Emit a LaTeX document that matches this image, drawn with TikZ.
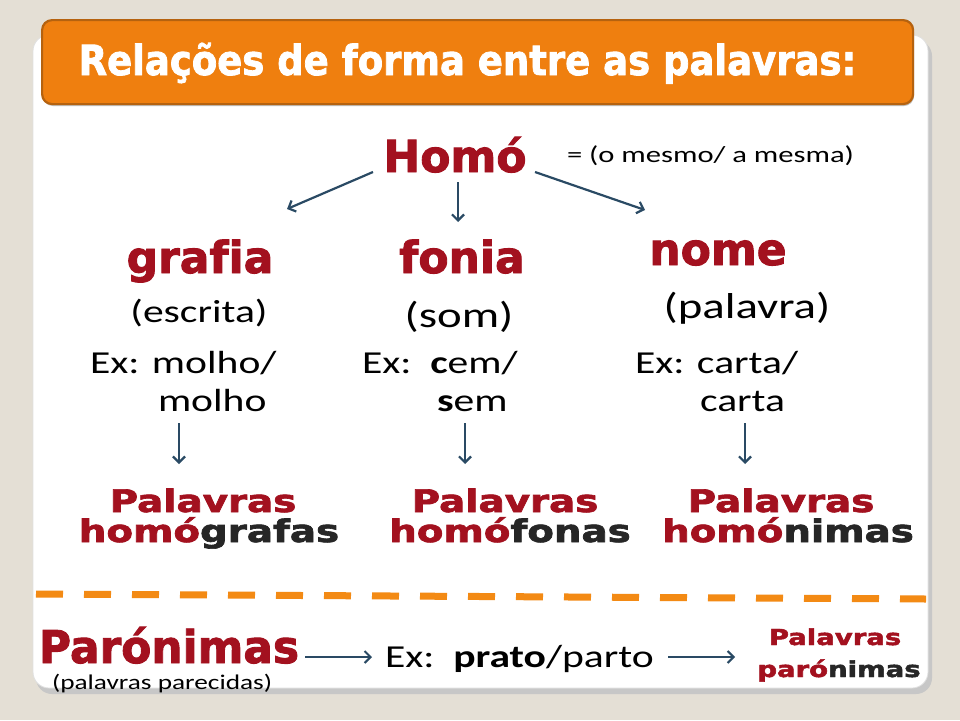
\documentclass[tikz,border=0pt]{standalone}
\usepackage{fontspec}
\setmainfont{Carlito}
\newfontfamily\hfont{DejaVu Sans}[Ligatures=NoCommon,BoldFeatures={FakeBold=2}]
\usetikzlibrary{arrows.meta,calc}
\definecolor{bg}{HTML}{E4DFD5}
\definecolor{orng}{HTML}{EF7F0F}
\definecolor{orngdk}{HTML}{B5620F}
\definecolor{dashc}{HTML}{F38A14}
\definecolor{rd}{HTML}{A3111F}
\definecolor{dk}{HTML}{262626}
\definecolor{arr}{HTML}{2A4A64}
\newcommand\hs[3]{\scalebox{#1}[1]{\hfont\bfseries\fontsize{#2}{#2}\selectfont #3}}
\newcommand\bs[3]{\scalebox{#1}[1]{\fontsize{#2}{#2}\selectfont #3}}
\begin{document}
\begin{tikzpicture}[x=1pt,y=-1pt,
  txt/.style={inner sep=0pt,outer sep=0pt,anchor=base,text=rd},
  body/.style={inner sep=0pt,outer sep=0pt,text=black},
  arrow/.style={draw=arr,line width=2.2pt,-{Straight Barb[length=6pt,width=12pt]}}]
\useasboundingbox (0,0) rectangle (960,720);
\fill[bg] (0,0) rectangle (960,720);
% card
\fill[black!22,rounded corners=16pt] (36,40) rectangle (932,694);
\fill[white,rounded corners=16pt] (33,35) rectangle (928,688);
\draw[black!12,line width=0.8pt,rounded corners=16pt] (33,35) rectangle (928,688);
% title
\fill[black!25,rounded corners=10pt] (43,22) rectangle (914,106);
\node[draw=orngdk,fill=orng,rounded corners=10pt,line width=2.2pt,minimum width=871pt,minimum height=84pt,anchor=north west,inner sep=0pt] (tbox) at (41,19) {};
\node[txt,text=white] (title) at (467.5,75) {\scalebox{1}[1.12]{\hs{1}{37}{Relações de forma entre as palavras:}}};
% top
\node[txt] (homo) at (455,172) {\hs{1}{44}{Homó}};
\node[body,anchor=base west] (mesmo) at (567,162) {\bs{1.33}{23}{= (o mesmo/ a mesma)}};
\node[txt] (grafia) at (200,273) {\hs{1}{44}{grafia}};
\node[txt] (fonia) at (462,273) {\hs{1}{44}{fonia}};
\node[txt] (nome) at (718,265) {\hs{1}{44}{nome}};
\node[body,anchor=base] (escrita) at (199,322) {\bs{1.3}{32}{(escrita)}};
\node[body,anchor=base] (som) at (459,327) {\bs{1.3}{36}{(som)}};
\node[body,anchor=base] (palavra) at (747,318) {\bs{1.3}{36}{(palavra)}};
\node[body,anchor=base west] (ex1a) at (90,373) {\bs{1.3}{32}{Ex: molho/}};
\node[body,anchor=base west] (ex1b) at (158,411) {\bs{1.3}{32}{molho}};
\node[body,anchor=base west] (ex2a) at (362,373) {\bs{1.3}{32}{Ex:\ \ \textbf{c}em/}};
\node[body,anchor=base west] (ex2b) at (437,411) {\bs{1.3}{32}{\textbf{s}em}};
\node[body,anchor=base west] (ex3a) at (635,373) {\bs{1.3}{32}{Ex: carta/}};
\node[body,anchor=base west] (ex3b) at (700,411) {\bs{1.3}{32}{carta}};
% results
\node[txt] (p1) at (203,512) {\hs{1.25}{31}{Palavras}};
\node[txt] (h1) at (209,542) {\hs{1.25}{31}{homó{\color{dk}grafas}}};
\node[txt] (p2) at (505,512) {\hs{1.25}{31}{Palavras}};
\node[txt] (h2) at (510,542) {\hs{1.25}{31}{homó{\color{dk}fonas}}};
\node[txt] (p3) at (781,512) {\hs{1.25}{31}{Palavras}};
\node[txt] (h3) at (788,542) {\hs{1.25}{31}{homó{\color{dk}nimas}}};
% arrows top
\coordinate (a1s) at (373,172); \coordinate (a1e) at (287,209);
\coordinate (a2s) at (458,182); \coordinate (a2e) at (458,222);
\coordinate (a3s) at (535,172); \coordinate (a3e) at (645,210);
\draw[arrow] (a1s) -- (a1e);
\draw[arrow] (a2s) -- (a2e);
\draw[arrow] (a3s) -- (a3e);
\coordinate (b1s) at (179,423); \coordinate (b1e) at (179,464);
\coordinate (b2s) at (465,423); \coordinate (b2e) at (465,464);
\coordinate (b3s) at (745,423); \coordinate (b3e) at (745,464);
\draw[arrow] (b1s) -- (b1e);
\draw[arrow] (b2s) -- (b2e);
\draw[arrow] (b3s) -- (b3e);
% dashed separator
\draw[dashc,line width=7pt,dash pattern=on 27pt off 21pt] (36,594) -- (926,599);
% bottom
\node[txt] (paro) at (169,663) {\scalebox{1}[1.1]{\hs{1.07}{41}{Parónimas}}};
\node[body,anchor=base west] (parec) at (52,689) {\bs{1.3}{21}{(palavras parecidas)}};
\node[body,anchor=base west] (ex4) at (385,667) {\bs{1.3}{32}{Ex:\ \ \textbf{prato}/parto}};
\node[txt] (p4) at (835,645) {\hs{1.25}{22}{Palavras}};
\node[txt] (h4) at (839,677) {\hs{1.25}{22}{paró{\color{dk}nimas}}};
\coordinate (c1s) at (305,657); \coordinate (c1e) at (372,657);
\coordinate (c2s) at (668,657); \coordinate (c2e) at (735,657);
\draw[arrow,line width=2pt] (c1s) -- (c1e);
\draw[arrow,line width=2pt] (c2s) -- (c2e);
\end{tikzpicture}
\end{document}
